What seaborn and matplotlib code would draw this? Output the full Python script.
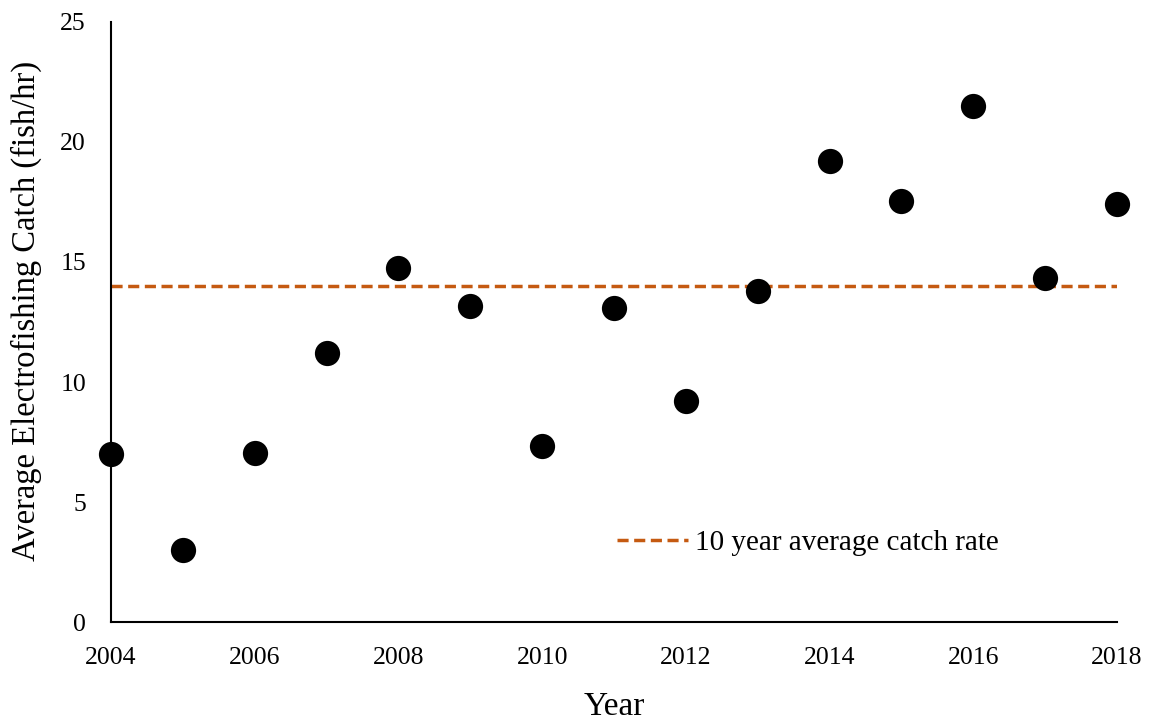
import matplotlib
matplotlib.use("Agg")
import matplotlib.pyplot as plt
import seaborn as sns
import pandas as pd

years = [2004, 2005, 2006, 2007, 2008, 2009, 2010, 2011, 2012, 2013, 2014, 2015, 2016, 2017, 2018]
catch = [7.0, 3.0, 7.05, 11.2, 14.75, 13.15, 7.35, 13.1, 9.2, 13.8, 19.2, 17.55, 21.5, 14.35, 17.4]
avg_rate = 14.0
avg_label = "10 year average catch rate"
xticks = [2004, 2006, 2008, 2010, 2012, 2014, 2016, 2018]
yticks = [0, 5, 10, 15, 20, 25]

sns.set_style("white")
plt.rcParams['font.family'] = ['Liberation Serif', 'DejaVu Serif']
plt.rcParams['text.color'] = 'black'
plt.rcParams['xtick.color'] = 'black'
plt.rcParams['ytick.color'] = 'black'
plt.rcParams['axes.labelcolor'] = 'black'

df = pd.DataFrame({"Year": years, "Catch": catch})
avg_df = pd.DataFrame({"Year": [years[0], years[-1]], "Avg": [avg_rate, avg_rate]})

fig = plt.figure(figsize=(11.49, 7.21), dpi=100)
ax = fig.add_axes([0.0966, 0.1373, 0.8756, 0.8322])

sns.lineplot(data=avg_df, x="Year", y="Avg", ax=ax, color="#C55A11", linewidth=2.5,
             linestyle=(0, (3.2, 1.6)), label=avg_label, zorder=2)
sns.scatterplot(data=df, x="Year", y="Catch", ax=ax, color="black", s=330,
                edgecolor="black", linewidth=0, zorder=3, clip_on=False, legend=False)

ax.set_xlim(2004, 2018)
ax.set_ylim(0, 25)
ax.set_xticks(xticks)
ax.set_yticks(yticks)
ax.tick_params(axis="both", length=0, labelsize=18.5)
ax.tick_params(axis="x", pad=18)
ax.tick_params(axis="y", pad=18)
for s in ["top", "right"]:
    ax.spines[s].set_visible(False)
for s in ["left", "bottom"]:
    ax.spines[s].set_color("black")
    ax.spines[s].set_linewidth(1.5)

ax.set_xlabel("Year", fontsize=24)
ax.set_ylabel("Average Electrofishing Catch (fish/hr)", fontsize=23.5)
ax.xaxis.set_label_coords(0.5, -0.116)
ax.yaxis.set_label_coords(-0.069, 0.518)

leg = ax.legend(loc="center left", bbox_to_anchor=(0.491, 0.132), frameon=False,
                fontsize=21, handlelength=2.45, handletextpad=0.25, borderaxespad=0)

fig.savefig("out.png", dpi=100)
